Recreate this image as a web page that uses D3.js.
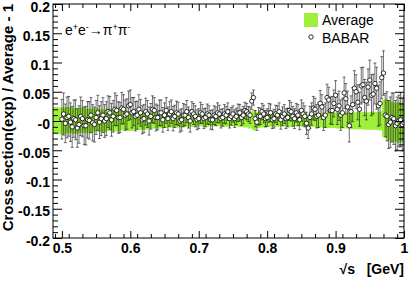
<!DOCTYPE html>
<html>
<head>
<meta charset="utf-8">
<script src="https://cdn.jsdelivr.net/npm/d3@7"></script>
<style>
  body { margin: 0; background: #fff; }
  svg { display: block; }
  text { font-family: "Liberation Sans", Arial, sans-serif; }
  .tick text { font-weight: bold; font-size: 14px; fill: #000; }
</style>
</head>
<body>
<div id="chart"></div>
<script>
// ---- data ----
const xTicks = [0.5, 0.6, 0.7, 0.8, 0.9, 1.0];
const xTickLabels = ["0.5", "0.6", "0.7", "0.8", "0.9", "1"];
const yTicks = [-0.2, -0.15, -0.1, -0.05, 0, 0.05, 0.1, 0.15, 0.2];
const yTickLabels = ["-0.2", "-0.15", "-0.1", "-0.05", "-0", "0.05", "0.1", "0.15", "0.2"];

// Average band (relative uncertainty)
const avgS  = [0.487, 0.495, 0.505, 0.515, 0.525, 0.535, 0.545, 0.555, 0.565, 0.575, 0.585, 0.595, 0.605, 0.615,
               0.625, 0.635, 0.645, 0.655, 0.665, 0.675, 0.685, 0.695, 0.705, 0.715, 0.725, 0.735, 0.745, 0.755,
               0.765, 0.772, 0.778, 0.784, 0.79, 0.80, 0.81, 0.82, 0.83, 0.84, 0.85, 0.86, 0.87, 0.88, 0.89,
               0.90, 0.91, 0.92, 0.93, 0.94, 0.95, 0.96, 0.966, 0.968, 0.972, 0.976, 0.98, 0.985, 0.99, 0.995, 1.0];
const avgUp = [0.024, 0.023, 0.024, 0.022, 0.023, 0.021, 0.022, 0.020, 0.021, 0.019, 0.018, 0.017, 0.016, 0.016,
               0.015, 0.014, 0.013, 0.013, 0.012, 0.012, 0.011, 0.012, 0.011, 0.012, 0.012, 0.013, 0.013, 0.014,
               0.015, 0.016, 0.019, 0.016, 0.014, 0.014, 0.013, 0.013, 0.012, 0.013, 0.012, 0.013, 0.013, 0.014, 0.014,
               0.015, 0.014, 0.015, 0.016, 0.015, 0.016, 0.016, 0.017, 0.036, 0.038, 0.035, 0.033, 0.031, 0.032, 0.030, 0.031];
const avgLo = [-0.022, -0.023, -0.021, -0.022, -0.020, -0.021, -0.018, -0.019, -0.017, -0.018, -0.016, -0.017, -0.015, -0.015,
               -0.013, -0.013, -0.012, -0.011, -0.011, -0.010, -0.010, -0.009, -0.010, -0.009, -0.009, -0.010, -0.009, -0.010,
               -0.011, -0.013, -0.016, -0.012, -0.011, -0.010, -0.010, -0.009, -0.010, -0.009, -0.010, -0.010, -0.011, -0.012, -0.012,
               -0.013, -0.013, -0.014, -0.014, -0.015, -0.015, -0.016, -0.016, -0.027, -0.030, -0.034, -0.036, -0.035, -0.037, -0.036, -0.037];

// BABAR points (2.5 MeV apart)
const babarS = [
  0.5000, 0.5025, 0.5050, 0.5075, 0.5100, 0.5125, 0.5150, 0.5175, 0.5200, 0.5225,
  0.5250, 0.5275, 0.5300, 0.5325, 0.5350, 0.5375, 0.5400, 0.5425, 0.5450, 0.5475,
  0.5500, 0.5525, 0.5550, 0.5575, 0.5600, 0.5625, 0.5650, 0.5675, 0.5700, 0.5725,
  0.5750, 0.5775, 0.5800, 0.5825, 0.5850, 0.5875, 0.5900, 0.5925, 0.5950, 0.5975,
  0.6000, 0.6025, 0.6050, 0.6075, 0.6100, 0.6125, 0.6150, 0.6175, 0.6200, 0.6225,
  0.6250, 0.6275, 0.6300, 0.6325, 0.6350, 0.6375, 0.6400, 0.6425, 0.6450, 0.6475,
  0.6500, 0.6525, 0.6550, 0.6575, 0.6600, 0.6625, 0.6650, 0.6675, 0.6700, 0.6725,
  0.6750, 0.6775, 0.6800, 0.6825, 0.6850, 0.6875, 0.6900, 0.6925, 0.6950, 0.6975,
  0.7000, 0.7025, 0.7050, 0.7075, 0.7100, 0.7125, 0.7150, 0.7175, 0.7200, 0.7225,
  0.7250, 0.7275, 0.7300, 0.7325, 0.7350, 0.7375, 0.7400, 0.7425, 0.7450, 0.7475,
  0.7500, 0.7525, 0.7550, 0.7575, 0.7600, 0.7625, 0.7650, 0.7675, 0.7700, 0.7725,
  0.7750, 0.7775, 0.7800, 0.7825, 0.7850, 0.7875, 0.7900, 0.7925, 0.7950, 0.7975,
  0.8000, 0.8025, 0.8050, 0.8075, 0.8100, 0.8125, 0.8150, 0.8175, 0.8200, 0.8225,
  0.8250, 0.8275, 0.8300, 0.8325, 0.8350, 0.8375, 0.8400, 0.8425, 0.8450, 0.8475,
  0.8500, 0.8525, 0.8550, 0.8575, 0.8600, 0.8625, 0.8650, 0.8675, 0.8700, 0.8725,
  0.8750, 0.8775, 0.8800, 0.8825, 0.8850, 0.8875, 0.8900, 0.8925, 0.8950, 0.8975,
  0.9000, 0.9025, 0.9050, 0.9075, 0.9100, 0.9125, 0.9150, 0.9175, 0.9200, 0.9225,
  0.9250, 0.9275, 0.9300, 0.9325, 0.9350, 0.9375, 0.9400, 0.9425, 0.9450, 0.9475,
  0.9500, 0.9525, 0.9550, 0.9575, 0.9600, 0.9625, 0.9650, 0.9675, 0.9700, 0.9725,
  0.9750, 0.9775, 0.9800, 0.9825, 0.9850, 0.9875, 0.9900, 0.9925, 0.9950, 0.9975,
  1.0000];
const babarV = [
  0.003, 0.012, -0.004, 0.006, 0.008, -0.002, -0.010, 0.004, 0.002, -0.012,
  -0.006, 0.008, 0.004, -0.008, -0.008, 0.002, 0.001, 0.010, -0.003, -0.006,
  0.006, 0.014, -0.002, 0.004, 0.010, 0.000, 0.004, 0.016, 0.014, 0.002,
  0.008, 0.020, 0.018, 0.006, 0.006, 0.022, 0.020, 0.010, 0.012, 0.026,
  0.028, 0.014, 0.016, 0.008, 0.010, 0.020, 0.014, 0.002, 0.004, 0.016,
  0.012, 0.000, 0.008, 0.020, 0.018, 0.006, 0.006, 0.014, 0.014, 0.002,
  0.010, 0.018, 0.004, 0.012, 0.016, 0.004, 0.008, 0.014, 0.012, 0.000,
  0.002, 0.010, 0.010, 0.016, 0.006, 0.000, 0.016, 0.012, 0.008, 0.002,
  0.004, 0.014, 0.012, 0.004, 0.006, 0.012, 0.010, 0.002, 0.002, 0.010,
  0.008, 0.014, 0.012, 0.004, 0.006, 0.012, 0.010, 0.016, 0.004, 0.008,
  0.012, 0.004, 0.008, 0.014, 0.014, 0.006, 0.010, 0.018, 0.016, 0.012,
  0.010, 0.034, 0.040, 0.004, -0.002, 0.008, 0.008, 0.016, 0.012, 0.004,
  0.006, 0.014, 0.014, 0.002, 0.004, 0.012, 0.010, 0.016, 0.002, 0.008,
  0.012, 0.004, 0.006, 0.018, 0.016, 0.008, 0.004, 0.014, 0.010, 0.002,
  0.018, 0.012, 0.008, -0.004, -0.012, 0.006, 0.012, 0.022, 0.020, 0.008,
  0.010, 0.030, 0.024, 0.006, 0.010, 0.040, 0.036, 0.018, 0.018, 0.030,
  0.044, 0.020, 0.026, 0.010, 0.014, 0.048, 0.038, 0.024, -0.008, 0.016,
  0.028, 0.056, 0.050, 0.032, 0.020, 0.060, 0.062, 0.040, 0.034, 0.058,
  0.070, 0.044, 0.046, 0.064, 0.056, 0.026, 0.030, 0.074, 0.082, 0.010,
  0.008, -0.006, -0.002, 0.006, 0.004, -0.008, -0.004, 0.000, 0.002, -0.006,
  -0.003];
const babarE = [
  0.034, 0.036, 0.033, 0.035, 0.034, 0.033, 0.035, 0.032, 0.034, 0.033,
  0.032, 0.033, 0.031, 0.032, 0.033, 0.031, 0.032, 0.030, 0.031, 0.030,
  0.029, 0.030, 0.028, 0.029, 0.030, 0.028, 0.029, 0.027, 0.028, 0.028,
  0.027, 0.028, 0.026, 0.027, 0.026, 0.027, 0.025, 0.026, 0.026, 0.025,
  0.025, 0.026, 0.024, 0.025, 0.024, 0.025, 0.023, 0.024, 0.024, 0.023,
  0.023, 0.024, 0.022, 0.023, 0.022, 0.023, 0.021, 0.022, 0.022, 0.021,
  0.021, 0.022, 0.020, 0.021, 0.020, 0.021, 0.019, 0.020, 0.020, 0.019,
  0.019, 0.020, 0.018, 0.019, 0.018, 0.019, 0.017, 0.018, 0.018, 0.017,
  0.017, 0.018, 0.016, 0.017, 0.016, 0.017, 0.016, 0.016, 0.017, 0.016,
  0.016, 0.017, 0.015, 0.016, 0.015, 0.016, 0.015, 0.015, 0.016, 0.015,
  0.014, 0.015, 0.014, 0.015, 0.014, 0.014, 0.015, 0.014, 0.014, 0.013,
  0.014, 0.014, 0.013, 0.014, 0.014, 0.015, 0.014, 0.014, 0.015, 0.014,
  0.015, 0.016, 0.015, 0.015, 0.016, 0.015, 0.016, 0.015, 0.016, 0.016,
  0.016, 0.017, 0.016, 0.017, 0.016, 0.017, 0.017, 0.016, 0.018, 0.017,
  0.018, 0.019, 0.018, 0.019, 0.018, 0.019, 0.019, 0.020, 0.019, 0.020,
  0.021, 0.022, 0.021, 0.022, 0.021, 0.023, 0.022, 0.023, 0.024, 0.023,
  0.025, 0.026, 0.025, 0.026, 0.025, 0.027, 0.026, 0.027, 0.028, 0.027,
  0.029, 0.030, 0.029, 0.030, 0.029, 0.031, 0.030, 0.031, 0.032, 0.031,
  0.034, 0.035, 0.034, 0.035, 0.036, 0.035, 0.037, 0.036, 0.038, 0.037,
  0.042, 0.041, 0.043, 0.042, 0.044, 0.043, 0.045, 0.044, 0.046, 0.045,
  0.046];

// ---- layout ----
const W = 415, H = 281;
const margin = {top: 4, right: 11, bottom: 43, left: 53};
const width = W - margin.left - margin.right;
const height = H - margin.top - margin.bottom;

const svg = d3.select("#chart").append("svg")
  .attr("width", W).attr("height", H);
const g = svg.append("g")
  .attr("transform", "translate(" + margin.left + "," + margin.top + ")");

const x = d3.scaleLinear().domain([0.487, 1.0]).range([0, width]);
const y = d3.scaleLinear().domain([-0.2, 0.2]).range([height, 0]);

svg.append("clipPath").attr("id", "clip")
  .append("rect").attr("width", width).attr("height", height);
const plot = g.append("g").attr("clip-path", "url(#clip)");

// average band
const band = avgS.map((s, i) => ({s: s, up: avgUp[i], lo: avgLo[i]}));
plot.append("path")
  .datum(band)
  .attr("fill", "#9ef03c")
  .attr("d", d3.area().curve(d3.curveStepAfter)
    .x(d => x(d.s)).y0(d => y(d.lo)).y1(d => y(d.up)));

// BABAR error bars
const pts = babarS.map((s, i) => ({s: s, v: babarV[i], e: babarE[i]}));
const bars = plot.append("g").attr("stroke", "#000").attr("stroke-opacity", 0.55).attr("stroke-width", 1);
bars.selectAll("line.eb").data(pts).enter().append("line")
  .attr("x1", d => x(d.s)).attr("x2", d => x(d.s))
  .attr("y1", d => y(d.v - d.e)).attr("y2", d => y(d.v + d.e));
bars.selectAll("line.cu").data(pts).enter().append("line")
  .attr("x1", d => x(d.s) - 1.5).attr("x2", d => x(d.s) + 1.5)
  .attr("y1", d => y(d.v + d.e)).attr("y2", d => y(d.v + d.e));
bars.selectAll("line.cl").data(pts).enter().append("line")
  .attr("x1", d => x(d.s) - 1.5).attr("x2", d => x(d.s) + 1.5)
  .attr("y1", d => y(d.v - d.e)).attr("y2", d => y(d.v - d.e));

plot.append("g").selectAll("circle").data(pts).enter().append("circle")
  .attr("cx", d => x(d.s)).attr("cy", d => y(d.v)).attr("r", 2.2)
  .attr("fill", "#fff").attr("stroke", "#000").attr("stroke-width", 0.8);

// ---- axes ----
const xMinor = d3.range(0.49, 1.0001, 0.02).filter(v => !xTicks.some(t => Math.abs(t - v) < 1e-6));
const yMinor = d3.range(-0.2, 0.2001, 0.01).filter(v => !yTicks.some(t => Math.abs(t - v) < 1e-6));

function styleAxis(sel) {
  sel.select(".domain").remove();
  sel.selectAll(".tick line").attr("stroke", "#000");
}

g.append("g").attr("transform", "translate(0," + height + ")")
  .call(d3.axisBottom(x).tickValues(xTicks).tickSize(-7).tickPadding(5)
    .tickFormat((d, i) => xTickLabels[i]))
  .call(styleAxis);
g.append("g").attr("transform", "translate(0," + height + ")")
  .call(d3.axisBottom(x).tickValues(xMinor).tickSize(-4).tickFormat(""))
  .call(styleAxis);
g.append("g")
  .call(d3.axisTop(x).tickValues(xTicks).tickSize(-7).tickFormat(""))
  .call(styleAxis);
g.append("g")
  .call(d3.axisTop(x).tickValues(xMinor).tickSize(-4).tickFormat(""))
  .call(styleAxis);

g.append("g")
  .call(d3.axisLeft(y).tickValues(yTicks).tickSize(-9).tickPadding(3)
    .tickFormat((d, i) => yTickLabels[i]))
  .call(styleAxis)
  .selectAll(".tick text").attr("dy", "0.5em");
g.append("g")
  .call(d3.axisLeft(y).tickValues(yMinor).tickSize(-5).tickFormat(""))
  .call(styleAxis);
g.append("g").attr("transform", "translate(" + width + ",0)")
  .call(d3.axisRight(y).tickValues(yTicks).tickSize(-9).tickFormat(""))
  .call(styleAxis);
g.append("g").attr("transform", "translate(" + width + ",0)")
  .call(d3.axisRight(y).tickValues(yMinor).tickSize(-5).tickFormat(""))
  .call(styleAxis);

// frame
g.append("rect").attr("width", width).attr("height", height)
  .attr("fill", "none").attr("stroke", "#000").attr("stroke-width", 1);

// titles
g.append("text")
  .attr("transform", "rotate(-90)")
  .attr("x", 0).attr("y", -40)
  .attr("text-anchor", "end")
  .style("font-weight", "bold").style("font-size", "15px")
  .text("Cross section(exp) / Average - 1");

const xt = g.append("text")
  .attr("x", width).attr("y", height + 36)
  .attr("text-anchor", "end")
  .style("font-weight", "bold").style("font-size", "14px");
xt.append("tspan").text("\u221As");
xt.append("tspan").attr("xml:space", "preserve").text("   [GeV]");

// process label
const pl = svg.append("text").attr("x", 65).attr("y", 35).style("font-size", "14px");
pl.append("tspan").text("e");
pl.append("tspan").attr("dy", -5).style("font-size", "9px").text("+");
pl.append("tspan").attr("dy", 5).text("e");
pl.append("tspan").attr("dy", -5).style("font-size", "9px").text("-");
pl.append("tspan").attr("dy", 5).text("\u2192\u03C0");
pl.append("tspan").attr("dy", -5).style("font-size", "9px").text("+");
pl.append("tspan").attr("dy", 5).text("\u03C0");
pl.append("tspan").attr("dy", -5).style("font-size", "9px").text("-");

// legend
const leg = svg.append("g");
leg.append("rect").attr("x", 304).attr("y", 13).attr("width", 14).attr("height", 14).attr("fill", "#9ef03c");
leg.append("text").attr("x", 322).attr("y", 25).style("font-size", "14px").text("Average");
leg.append("circle").attr("cx", 311).attr("cy", 37).attr("r", 2.2)
  .attr("fill", "#fff").attr("stroke", "#000").attr("stroke-width", 0.8);
leg.append("text").attr("x", 322).attr("y", 43).style("font-size", "14px").text("BABAR");
</script>
</body>
</html>
